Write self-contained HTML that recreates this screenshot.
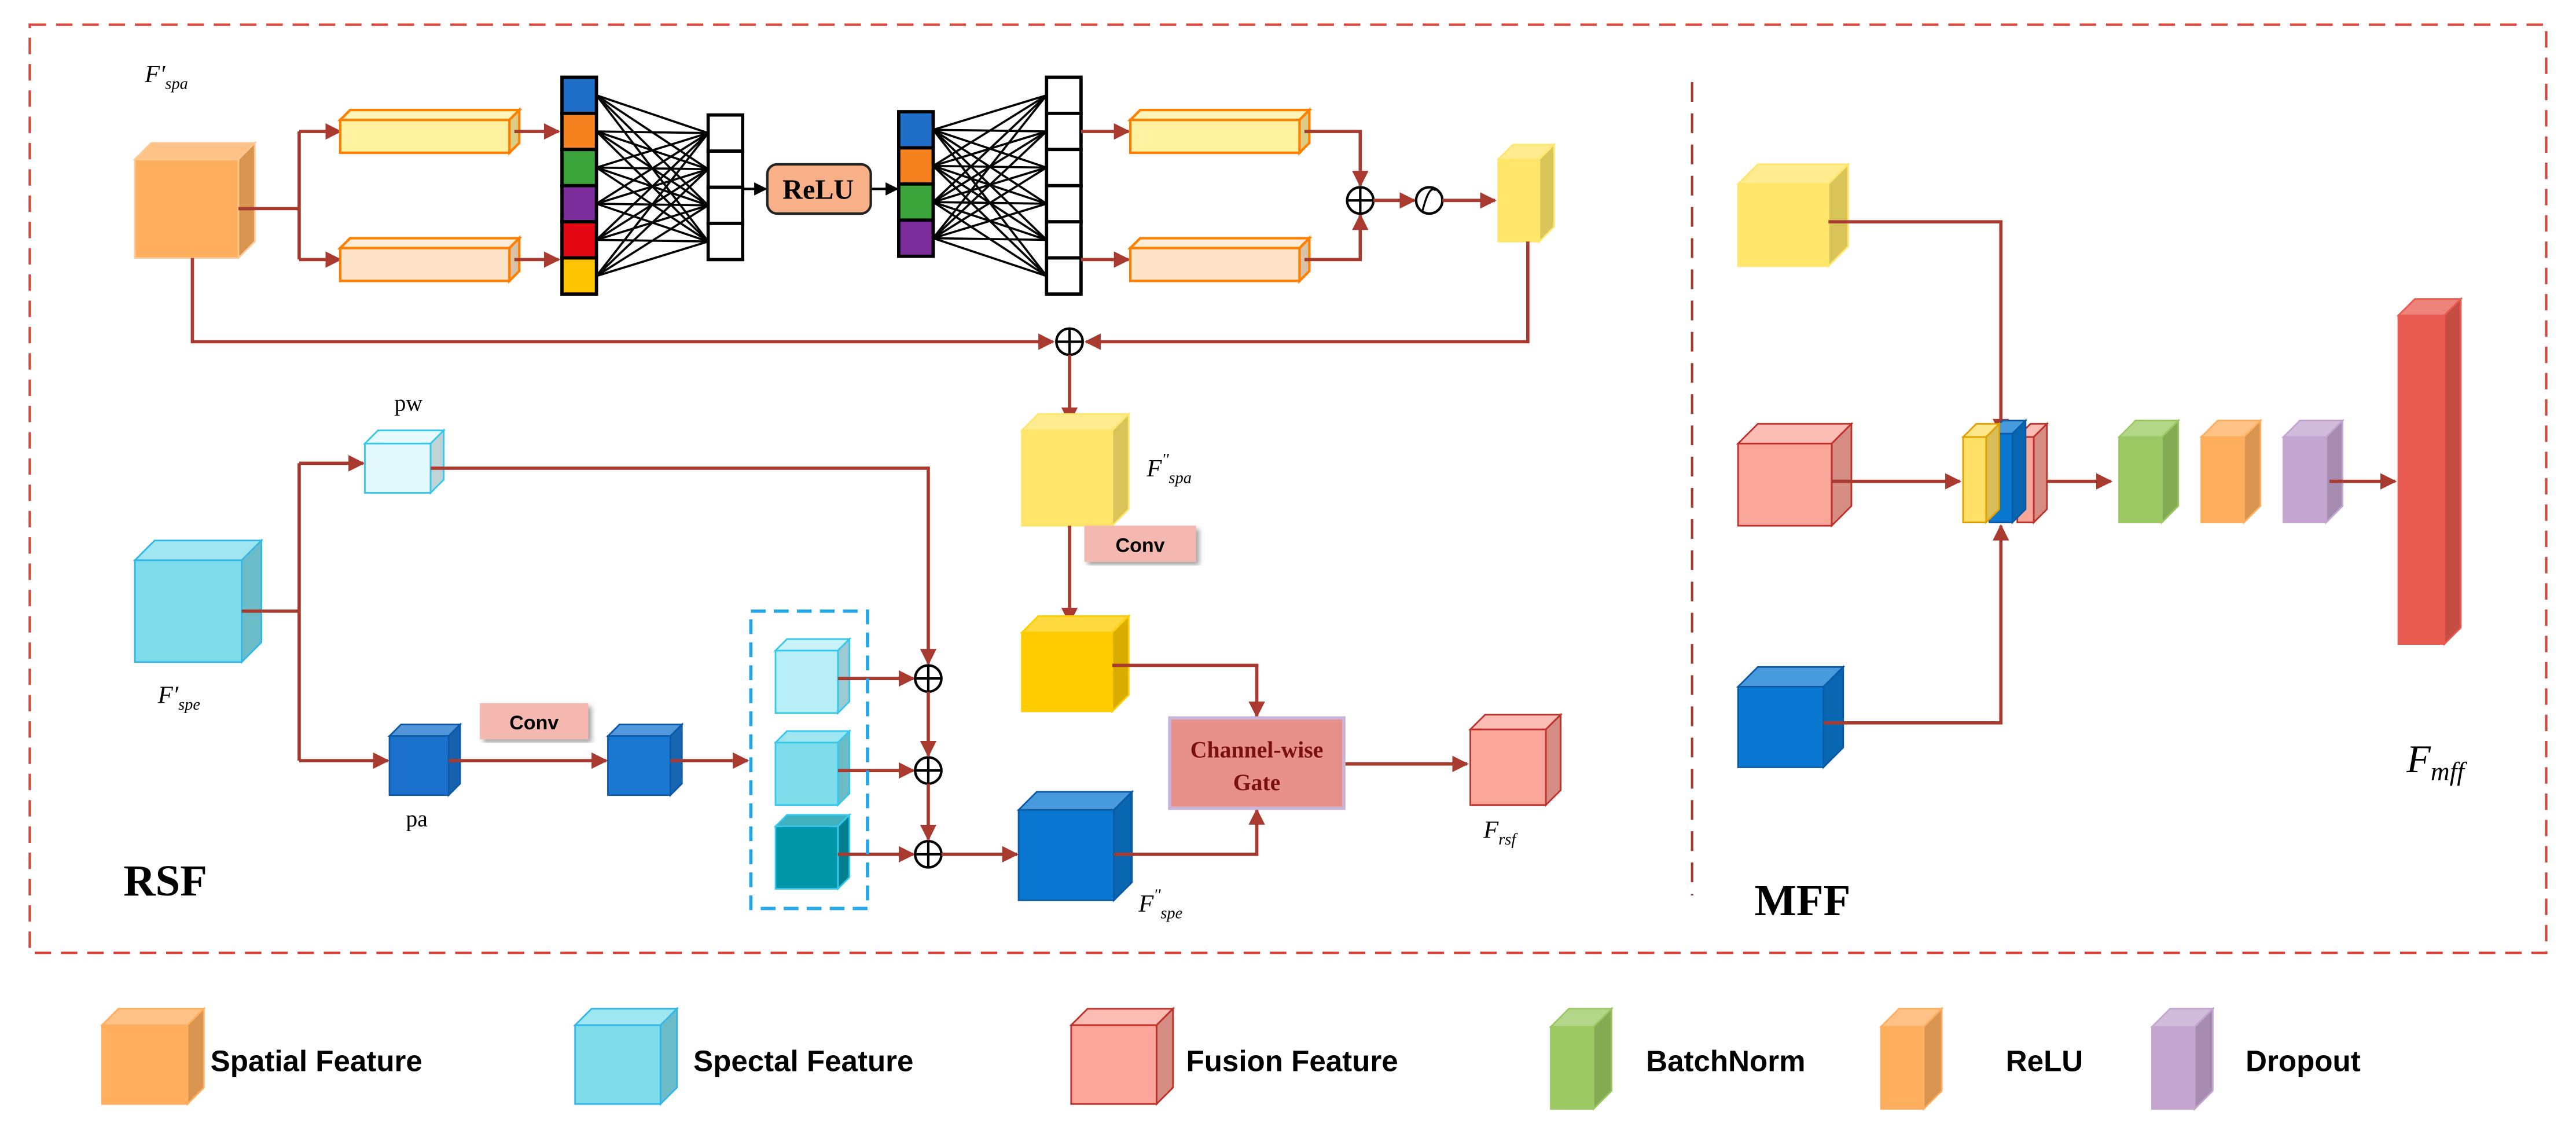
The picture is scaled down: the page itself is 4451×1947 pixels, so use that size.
<!DOCTYPE html>
<html><head><meta charset="utf-8"><style>
html,body{margin:0;padding:0;background:#fff;}
svg{display:block;}
text{font-family:"Liberation Serif",serif;}
.sans{font-family:"Liberation Sans",sans-serif;font-weight:bold;}
</style></head><body>
<svg id="s" xmlns="http://www.w3.org/2000/svg" width="4451" height="1947" viewBox="0 0 1568 686">
<defs>
<marker id="ar" markerWidth="10" markerHeight="10" refX="9" refY="5" orient="auto" markerUnits="userSpaceOnUse"><path d="M0,0 L10,5 L0,10 z" fill="#A83A30"/></marker>
<marker id="ak" markerWidth="8" markerHeight="8" refX="7" refY="4" orient="auto" markerUnits="userSpaceOnUse"><path d="M0,0 L8,4 L0,8 z" fill="#000"/></marker>
<filter id="sh"><feDropShadow dx="2" dy="2" stdDeviation="1.5" flood-color="#666" flood-opacity="0.6"/></filter>
</defs>
<rect x="18" y="15" width="1532" height="565" fill="none" stroke="#D9473C" stroke-width="1.5" stroke-dasharray="10,6"/>
<line x1="1030" y1="50" x2="1030" y2="545" stroke="#A83A30" stroke-width="1.5" stroke-dasharray="12,7"/>
<g id="g"></g>
<rect x="467" y="100" width="63" height="30" rx="6" fill="#F8B088" stroke="#222" stroke-width="1.5"/>
<text x="498" y="121" font-size="17" font-weight="bold" text-anchor="middle">ReLU</text>
<rect x="660" y="320" width="68" height="22" fill="#F4B8B0" filter="url(#sh)"/>
<text x="694" y="336" class="sans" font-size="12" text-anchor="middle">Conv</text>
<rect x="292" y="428" width="66" height="22" fill="#F4B8B0" filter="url(#sh)"/>
<text x="325" y="444" class="sans" font-size="12" text-anchor="middle">Conv</text>
<rect x="712" y="437" width="106" height="55" fill="#E8908A" stroke="#C8B4D8" stroke-width="2"/>
<text x="765" y="461" font-size="14" font-weight="bold" fill="#7A1010" text-anchor="middle">Channel-wise</text>
<text x="765" y="481" font-size="14" font-weight="bold" fill="#7A1010" text-anchor="middle">Gate</text>
<rect x="457" y="372" width="71" height="181" fill="none" stroke="#22A8E8" stroke-width="2" stroke-dasharray="9,5"/>
<text x="88" y="50" font-size="15" font-style="italic">F′<tspan font-size="10" dy="4">spa</tspan></text>
<text x="96" y="428" font-size="15" font-style="italic">F′<tspan font-size="10" dy="4">spe</tspan></text>
<text x="698" y="290" font-size="15" font-style="italic">F<tspan font-size="10" dy="-7">''</tspan><tspan font-size="10" dy="11">spa</tspan></text>
<text x="693" y="555" font-size="15" font-style="italic">F<tspan font-size="10" dy="-7">''</tspan><tspan font-size="10" dy="11">spe</tspan></text>
<text x="903" y="510" font-size="15" font-style="italic">F<tspan font-size="10" dy="4">rsf</tspan></text>
<text x="1465" y="470" font-size="24" font-style="italic">F<tspan font-size="16" dy="5">mff</tspan></text>
<text x="240" y="250" font-size="14">pw</text>
<text x="247" y="503" font-size="14">pa</text>
<text x="75" y="545" font-size="27" font-weight="bold">RSF</text>
<text x="1068" y="557" font-size="27" font-weight="bold">MFF</text>
<text x="128" y="652" class="sans" font-size="18">Spatial Feature</text>
<text x="422" y="652" class="sans" font-size="18">Spectal Feature</text>
<text x="722" y="652" class="sans" font-size="18">Fusion Feature</text>
<text x="1002" y="652" class="sans" font-size="18">BatchNorm</text>
<text x="1221" y="652" class="sans" font-size="18">ReLU</text>
<text x="1367" y="652" class="sans" font-size="18">Dropout</text>
</svg>
<script>
const g=document.getElementById('g');const NS='http://www.w3.org/2000/svg';
function el(t,a){const e=document.createElementNS(NS,t);for(const k in a)e.setAttribute(k,a[k]);g.appendChild(e);return e;}
function shade(c,f){let n=parseInt(c.slice(1),16);let r=n>>16,gg=(n>>8)&255,b=n&255;
 const m=v=>Math.max(0,Math.min(255,Math.round(f>1?v+(255-v)*(f-1):v*f)));return 'rgb('+m(r)+','+m(gg)+','+m(b)+')';}
function cube(x,y,w,h,d,c,s,sw){sw=sw||1;
 el('polygon',{points:`${x},${y} ${x+d},${y-d} ${x+w+d},${y-d} ${x+w},${y}`,fill:shade(c,1.25),stroke:s,'stroke-width':sw});
 el('polygon',{points:`${x+w},${y} ${x+w+d},${y-d} ${x+w+d},${y+h-d} ${x+w},${y+h}`,fill:shade(c,0.85),stroke:s,'stroke-width':sw});
 el('rect',{x:x,y:y,width:w,height:h,fill:c,stroke:s,'stroke-width':sw});}
function L(pts,m){el('polyline',{points:pts,fill:'none',stroke:'#A83A30','stroke-width':2,'marker-end':m?'url(#ar)':''});}
function plus(cx,cy){el('circle',{cx:cx,cy:cy,r:8,fill:'#fff',stroke:'#000','stroke-width':1.5});
 el('line',{x1:cx-8,y1:cy,x2:cx+8,y2:cy,stroke:'#000','stroke-width':1.5});el('line',{x1:cx,y1:cy-8,x2:cx,y2:cy+8,stroke:'#000','stroke-width':1.5});}
function col(x,y,n,cols){for(let i=0;i<n;i++)el('rect',{x:x,y:y+i*22,width:21,height:22,fill:cols?cols[i]:'#fff',stroke:'#000','stroke-width':2});}
const C6=['#1F6FC8','#F5821F','#3BA53B','#7B2D9B','#E30613','#FFC400'];
function conn(x1,y1,n1,x2,y2,n2){for(let i=0;i<n1;i++)for(let j=0;j<n2;j++)el('line',{x1:x1,y1:y1+i*22+11,x2:x2,y2:y2+j*22+11,stroke:'#000','stroke-width':1.3});}
conn(363,47,6,431,70,4);conn(568,68,4,637,47,6);
col(342,47,6,C6);col(431,70,4);col(547,68,4,C6.slice(0,4));col(637,47,6);
el('line',{x1:452,y1:115,x2:466,y2:115,stroke:'#000','stroke-width':1.5,'marker-end':'url(#ak)'});
el('line',{x1:530,y1:115,x2:546,y2:115,stroke:'#000','stroke-width':1.5,'marker-end':'url(#ak)'});
cube(82,97,63,60,10,'#FFAE5E','#FFC890');
L('145,127 182,127');L('182,80 182,158');L('182,80 207,80',1);L('182,158 207,158',1);
cube(207,73,103,20,6,'#FFF1A0','#FF8000',1.5);cube(207,151,103,20,6,'#FDE4C8','#FF8000',1.5);
L('313,80 340,80',1);L('313,158 340,158',1);
L('658,80 687,80',1);L('658,158 687,158',1);
cube(688,73,103,20,6,'#FFF1A0','#FF8000',1.5);cube(688,151,103,20,6,'#FDE4C8','#FF8000',1.5);
L('794,80 828,80 828,113',1);L('794,158 828,158 828,131',1);
plus(828,122);L('836,122 861,122',1);
el('ellipse',{cx:870,cy:122,rx:8,ry:8,fill:'#fff',stroke:'#000','stroke-width':1.5});
el('path',{d:'M866,128 Q870,112 874,116',fill:'none',stroke:'#000','stroke-width':1.2});
L('878,122 910,122',1);
cube(912,97,25,50,9,'#FFE66A','#FFE66A');
L('930,147 930,208 661,208',1);L('117,157 117,208 641,208',1);plus(651,208);
L('651,216 651,257',1);
cube(622,262,55,58,10,'#FFE66A','#FFE66A');
L('651,320 651,379',1);
cube(622,385,55,48,10,'#FFCC00','#FFCC00');
L('677,405 765,405 765,436',1);
L('818,465 893,465',1);
cube(895,444,46,46,9,'#F9A59A','#C0302A');
cube(82,341,65,62,12,'#7FDDEB','#33B6E8');
L('147,372 182,372');L('182,282 182,463');L('182,282 221,282',1);
cube(222,270,40,30,8,'#E2F8FC','#33C8EC');
L('262,285 565,285 565,404',1);
L('182,463 236,463',1);
cube(237,448,36,36,7,'#1A72CC','#0E5AA8');
L('273,463 369,463',1);
cube(370,448,38,36,7,'#1A78D0','#0E5AA8');
L('408,463 455,463',1);
cube(472,396,38,38,7,'#B8EEF8','#33C8EC');
cube(472,452,38,38,7,'#7FDDEB','#33C8EC');
cube(472,503,38,38,7,'#0096A8','#33C8EC');
L('510,413 556,413',1);L('510,469 556,469',1);L('510,520 556,520',1);
plus(565,413);plus(565,469);plus(565,520);
L('565,421 565,460',1);L('565,477 565,511',1);
L('573,520 619,520',1);
cube(620,493,58,55,11,'#0A78D0','#0A5AA8');
L('678,520 765,520 765,493',1);
cube(1058,112,55,50,12,'#FFE66A','#FFE66A');
L('1113,135 1218,135 1218,264',1);
cube(1058,270,57,50,12,'#F9A59A','#C0302A');
L('1115,293 1193,293',1);
cube(1058,418,52,49,12,'#0A78D0','#0A5AA8');
L('1110,440 1218,440 1218,320',1);
cube(1228,266,10,52,8,'#F9A59A','#C0302A');
cube(1211,264,14,54,8,'#0A78D0','#0A5AA8');
cube(1195,266,14,52,8,'#FFE066','#E0A000');
L('1246,293 1285,293',1);
cube(1290,266,26,52,10,'#9BC862','#9BC862');
cube(1340,266,26,52,10,'#FFAE5E','#FFAE5E');
cube(1390,266,26,52,10,'#C3A5D0','#C3A5D0');
L('1418,293 1458,293',1);
cube(1460,192,28,200,10,'#E85A4F','#E85A4F');
cube(62,624,52,48,10,'#FFAE5E','#FFAE5E');
cube(350,624,52,48,10,'#7FDDEB','#33B6E8');
cube(652,624,52,48,10,'#F9A59A','#C0302A');
cube(944,625,26,50,11,'#9BC862','#9BC862');
cube(1145,625,26,50,11,'#FFAE5E','#FFAE5E');
cube(1310,625,26,50,11,'#C3A5D0','#C3A5D0');
</script>
</body></html>
